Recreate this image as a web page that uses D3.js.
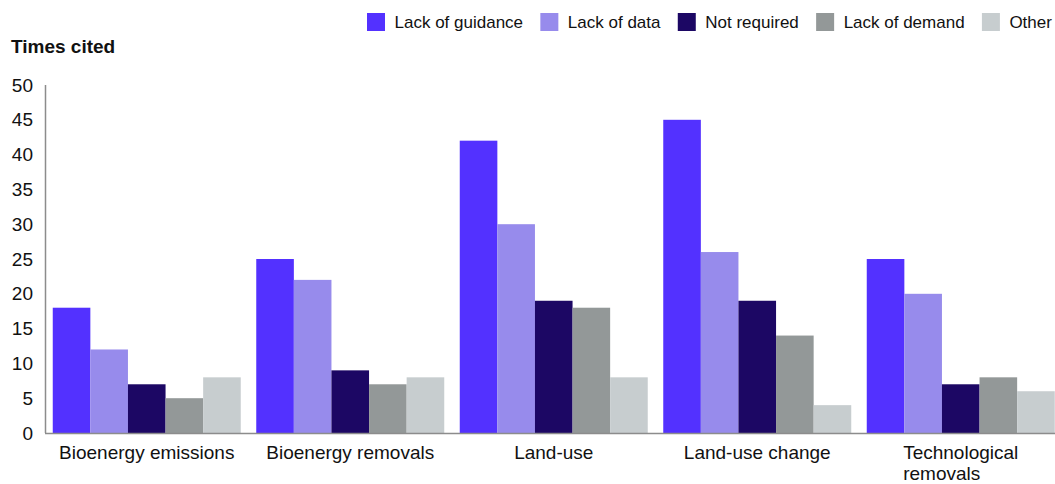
<!DOCTYPE html>
<html><head><meta charset="utf-8">
<script src="https://cdn.jsdelivr.net/npm/d3@7"></script>
<style>
html,body{margin:0;padding:0;background:#fff;overflow:hidden;}
svg{display:block;font-family:"Liberation Sans",Arial,sans-serif;}
</style></head>
<body><svg id="chart" width="1055" height="484"></svg>
<script>
const categories = ["Bioenergy emissions","Bioenergy removals","Land-use","Land-use change","Technological removals"];
const seriesNames = ["Lack of guidance","Lack of data","Not required","Lack of demand","Other"];
const lackOfGuidance = [18,25,42,45,25];
const lackOfData = [12,22,30,26,20];
const notRequired = [7,9,19,19,7];
const lackOfDemand = [5,7,18,14,8];
const other = [8,8,8,4,6];
const yTicks = [0,5,10,15,20,25,30,35,40,45,50];
const colors = ["#5331ff","#978bec","#1c0764","#939898","#c7cdcf"];
const seriesValues = [lackOfGuidance,lackOfData,notRequired,lackOfDemand,other];

const svg = d3.select("#chart");
const y = d3.scaleLinear().domain([0,50]).range([433,85]);
const x = d3.scaleBand().domain(categories).range([45,1062.5]).paddingInner(0.0762).paddingOuter(0.0381);
const xs = d3.scaleBand().domain(seriesNames).range([0,x.bandwidth()]);

// bars
categories.forEach((c,ci)=>{
  const g = svg.append("g").attr("transform",`translate(${x(c)},0)`);
  seriesNames.forEach((s,si)=>{
    const v = seriesValues[si][ci];
    g.append("rect").attr("x",xs(s)).attr("y",y(v)).attr("width",xs.bandwidth()).attr("height",y(0)-y(v)).attr("fill",colors[si]);
  });
});

// axes lines
svg.append("line").attr("x1",45.5).attr("x2",45.5).attr("y1",y(50)).attr("y2",y(0)).attr("stroke","#8c8c8c").attr("stroke-width",1.5);
svg.append("line").attr("x1",45).attr("x2",1055).attr("y1",y(0)+0.5).attr("y2",y(0)+0.5).attr("stroke","#8c8c8c").attr("stroke-width",1.5);

// y ticks
svg.append("g").selectAll("text").data(yTicks).join("text")
  .attr("x",33).attr("y",d=>y(d)).attr("dy","0.35em").attr("text-anchor","end")
  .attr("font-size",19).attr("fill","#111").text(d=>d);

// title
svg.append("text").attr("x",11).attr("y",53).attr("font-size",19).attr("font-weight","bold").attr("fill","#111").text("Times cited");

// x labels
categories.forEach(c=>{
  const cx = x(c)+x.bandwidth()/2;
  const t = svg.append("text").attr("y",459).attr("font-size",19).attr("fill","#111");
  t.text(c);
  const w = t.node().getComputedTextLength();
  if (w > x.bandwidth()*0.97) {
    const words = c.split(" ");
    t.text(null);
    const spans = words.map((wd,i)=>t.append("tspan").attr("dy", i===0?0:21).text(wd));
    let maxW = 0;
    spans.forEach(s=>{maxW=Math.max(maxW,s.node().getComputedTextLength());});
    spans.forEach(s=>s.attr("x",cx-maxW/2));
  } else {
    t.attr("x",cx).attr("text-anchor","middle");
  }
});

// legend
let lx = 367;
const lg = svg.append("g");
seriesNames.forEach((s,i)=>{
  lg.append("rect").attr("x",lx).attr("y",13).attr("width",18).attr("height",18).attr("fill",colors[i]);
  const t = lg.append("text").attr("x",lx+27.5).attr("y",28).attr("font-size",17).attr("fill","#111").text(s);
  lx += 27.5 + t.node().getComputedTextLength() + 17.3;
});
</script></body></html>
